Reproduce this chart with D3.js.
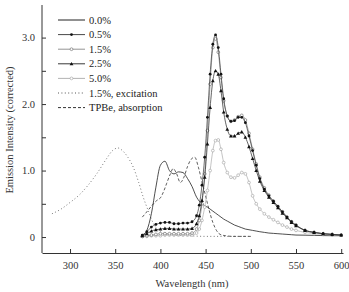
<!DOCTYPE html>
<html>
<head>
  <script src="https://d3js.org/d3.v7.min.js"></script>
  <style>
    body { margin: 0; background: #fff; }
    svg { display: block; }
    svg text { font-family: "Liberation Serif", "Times New Roman", serif; }
  </style>
</head>
<body>
  <script>
    // emission wavelengths (nm)
    const emWave = [380, 385, 390, 395, 400, 405, 410, 415, 420, 425, 430, 435, 440, 443, 446, 449, 452, 455, 458, 461,
      464, 467, 470, 474, 478, 482, 486, 490, 494, 498, 502, 506, 510, 515, 520, 525, 530, 535, 540, 545,
      550, 560, 570, 580, 590, 600];

    const em00 = [0.02, 0.1, 0.35, 0.75, 1.08, 1.14, 1.0, 0.95, 0.98, 0.97, 0.88, 0.76, 0.6, 0.54, 0.5, 0.47, 0.45, 0.42, 0.39, 0.36,
      0.33, 0.3, 0.27, 0.24, 0.21, 0.18, 0.16, 0.14, 0.12, 0.11, 0.1, 0.09, 0.08, 0.07, 0.06, 0.055, 0.05, 0.045, 0.04, 0.035,
      0.03, 0.028, 0.025, 0.022, 0.02, 0.02];
    const em05 = [0.03, 0.08, 0.15, 0.19, 0.21, 0.22, 0.22, 0.2, 0.2, 0.21, 0.21, 0.23, 0.32, 0.48, 0.78, 1.2, 1.8, 2.45, 2.9, 3.04,
      2.85, 2.45, 2.08, 1.82, 1.74, 1.75, 1.8, 1.8, 1.72, 1.52, 1.3, 1.08, 0.88, 0.72, 0.62, 0.54, 0.46, 0.38, 0.3, 0.23,
      0.18, 0.1, 0.07, 0.05, 0.04, 0.03];
    const em15 = [0.01, 0.02, 0.03, 0.04, 0.05, 0.05, 0.05, 0.05, 0.05, 0.05, 0.05, 0.06, 0.12, 0.25, 0.5, 0.95, 1.6, 2.3, 2.85, 2.98,
      2.78, 2.4, 2.05, 1.82, 1.74, 1.76, 1.81, 1.83, 1.76, 1.56, 1.32, 1.1, 0.9, 0.74, 0.63, 0.54, 0.46, 0.38, 0.3, 0.23,
      0.18, 0.1, 0.07, 0.05, 0.04, 0.03];
    const em25 = [0.02, 0.05, 0.09, 0.11, 0.12, 0.13, 0.13, 0.12, 0.12, 0.12, 0.12, 0.13, 0.2, 0.32, 0.55, 0.9, 1.4, 1.95, 2.35, 2.5,
      2.45, 2.2, 1.88, 1.62, 1.52, 1.52, 1.56, 1.58, 1.5, 1.36, 1.18, 1.0, 0.84, 0.7, 0.6, 0.52, 0.44, 0.36, 0.29, 0.22,
      0.17, 0.1, 0.07, 0.05, 0.04, 0.03];
    const em50 = [0.01, 0.01, 0.02, 0.02, 0.02, 0.03, 0.03, 0.03, 0.03, 0.03, 0.03, 0.03, 0.06, 0.12, 0.25, 0.45, 0.7, 1.0, 1.3, 1.45,
      1.46, 1.32, 1.12, 0.97, 0.9, 0.89, 0.93, 0.97, 0.95, 0.82, 0.62, 0.5, 0.42, 0.35, 0.3, 0.26, 0.22, 0.18, 0.15, 0.12,
      0.1, 0.07, 0.05, 0.04, 0.03, 0.03];

    // 1.5%, excitation
    const exWave = [280, 290, 300, 310, 320, 330, 340, 347, 353, 358, 364, 370, 376, 381, 387, 392, 398, 405, 415, 430, 450, 475, 500];
    const exVal = [0.35, 0.42, 0.52, 0.63, 0.78, 0.96, 1.17, 1.3, 1.34, 1.3, 1.2, 1.05, 0.82, 0.6, 0.38, 0.21, 0.1, 0.05, 0.03, 0.02, 0.01, 0.01, 0.01];

    // TPBe, absorption
    const abWave = [380, 385, 391, 396, 400, 404, 407, 411, 414, 418, 422, 426, 430, 434, 438, 442, 446, 450, 454, 458, 462, 466, 472, 480, 490, 500];
    const abVal = [0.3, 0.38, 0.48, 0.55, 0.59, 0.7, 0.81, 0.95, 1.03, 0.95, 0.82, 0.9, 1.06, 1.17, 1.2, 1.05, 0.83, 0.62, 0.4, 0.22, 0.1, 0.04, 0.02, 0.01, 0.01, 0.01];

    const xTicks = [300, 350, 400, 450, 500, 550, 600];
    const yTicks = [0, 0.5, 1, 1.5, 2, 2.5, 3];
    const yLabels = { 0: "0", 1: "1.0", 2: "2.0", 3: "3.0" };

    const W = 349, H = 292;
    const FONT = "'Liberation Serif', 'Times New Roman', serif";
    const svg = d3.select("body").append("svg")
      .attr("width", W)
      .attr("height", H);

    const x = d3.scaleLinear().domain([269, 602]).range([42, 343]);
    const y = d3.scaleLinear().domain([-0.24, 3.49]).range([253, 5]);

    // axes, ticks pointing inward
    const xAxis = svg.append("g")
      .attr("transform", "translate(0,253)")
      .call(d3.axisBottom(x).tickValues(xTicks).tickSizeInner(-4).tickSizeOuter(0).tickPadding(9).tickFormat(d3.format("d")));
    const yAxis = svg.append("g")
      .attr("transform", "translate(42,0)")
      .call(d3.axisLeft(y).tickValues(yTicks).tickSizeInner(-4).tickSizeOuter(0).tickPadding(7).tickFormat(d => yLabels[d] || ""));
    [xAxis, yAxis].forEach(g => {
      g.attr("font-family", FONT);
      g.selectAll("path, line").attr("stroke", "#333").attr("stroke-width", 1);
      g.selectAll("text").attr("font-size", 10.5).attr("fill", "#333").attr("font-family", FONT);
    });
    // y axis runs to the top
    yAxis.select(".domain").attr("d", "M0,5V253");

    svg.append("text")
      .attr("x", 192).attr("y", 287)
      .attr("text-anchor", "middle")
      .attr("font-family", FONT)
      .attr("font-size", 10.5).attr("fill", "#333")
      .text("Wavelength (nm)");
    svg.append("text")
      .attr("transform", "translate(13,130) rotate(-90)")
      .attr("text-anchor", "middle")
      .attr("font-family", FONT)
      .attr("font-size", 10.5).attr("fill", "#333")
      .text("Emission Intensity (corrected)");

    const line = d3.line()
      .x(d => x(d[0]))
      .y(d => y(d[1]))
      .curve(d3.curveMonotoneX);

    const series = [
      { name: "0.0%", wave: emWave, vals: em00, stroke: "#222", width: 0.8, dash: null, marker: null },
      { name: "0.5%", wave: emWave, vals: em05, stroke: "#333", width: 0.7, dash: null, marker: "dot" },
      { name: "1.5%", wave: emWave, vals: em15, stroke: "#888", width: 0.7, dash: null, marker: "open" },
      { name: "2.5%", wave: emWave, vals: em25, stroke: "#222", width: 0.7, dash: null, marker: "tri" },
      { name: "5.0%", wave: emWave, vals: em50, stroke: "#aaa", width: 0.7, dash: null, marker: "openLight" },
      { name: "1.5%, excitation", wave: exWave, vals: exVal, stroke: "#555", width: 0.8, dash: "1,2.4", marker: null },
      { name: "TPBe, absorption", wave: abWave, vals: abVal, stroke: "#333", width: 0.8, dash: "3,2", marker: null }
    ];

    function drawMarker(g, type, cx, cy) {
      if (type === "dot") {
        g.append("circle").attr("cx", cx).attr("cy", cy).attr("r", 1.4).attr("fill", "#111");
      } else if (type === "open") {
        g.append("circle").attr("cx", cx).attr("cy", cy).attr("r", 1.4)
          .attr("fill", "#fff").attr("stroke", "#777").attr("stroke-width", 0.7);
      } else if (type === "openLight") {
        g.append("circle").attr("cx", cx).attr("cy", cy).attr("r", 1.4)
          .attr("fill", "#fff").attr("stroke", "#aaa").attr("stroke-width", 0.7);
      } else if (type === "tri") {
        const s = 1.9;
        g.append("path")
          .attr("d", `M${cx},${cy - s}L${cx + s},${cy + s * 0.8}L${cx - s},${cy + s * 0.8}Z`)
          .attr("fill", "#111");
      }
    }

    // draw back to front so the darkest curves are on top
    const order = [6, 5, 0, 4, 2, 3, 1];
    order.forEach(i => {
      const s = series[i];
      const pts = s.wave.map((w, j) => [w, s.vals[j]]);
      svg.append("path")
        .datum(pts)
        .attr("fill", "none")
        .attr("stroke", s.stroke)
        .attr("stroke-width", s.width)
        .attr("stroke-dasharray", s.dash)
        .attr("d", line);
      if (s.marker) {
        const g = svg.append("g");
        pts.forEach(p => drawMarker(g, s.marker, x(p[0]), y(p[1])));
      }
    });

    // legend
    const legend = svg.append("g");
    series.forEach((s, i) => {
      const ly = 20 + i * 14.6;
      legend.append("line")
        .attr("x1", 58).attr("x2", 85)
        .attr("y1", ly).attr("y2", ly)
        .attr("stroke", s.stroke)
        .attr("stroke-width", s.width + 0.2)
        .attr("stroke-dasharray", s.dash);
      if (s.marker) drawMarker(legend, s.marker, 71.5, ly);
      legend.append("text")
        .attr("x", 89).attr("y", ly + 3.5)
        .attr("font-family", FONT)
        .attr("font-size", 10.5).attr("fill", "#222")
        .text(s.name);
    });
  </script>
</body>
</html>
